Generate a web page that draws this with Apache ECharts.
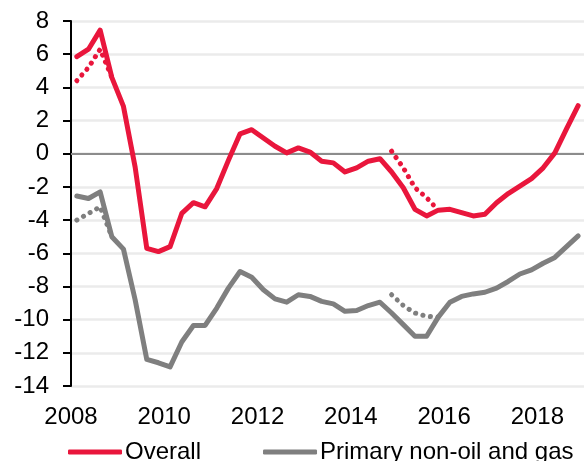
<!DOCTYPE html>
<html>
<head>
<meta charset="utf-8">
<script src="https://cdn.jsdelivr.net/npm/echarts@6/dist/echarts.min.js"></script>
<style>
    html, body { margin: 0; padding: 0; background: #fff; }
    #chart { width: 584px; height: 461px; }
</style>
</head>
<body>
<div id="chart"></div>
<script>
// quarters 2008Q1 .. 2018Q4
var quarters = [
    "2008Q1","2008Q2","2008Q3","2008Q4","2009Q1","2009Q2","2009Q3","2009Q4",
    "2010Q1","2010Q2","2010Q3","2010Q4","2011Q1","2011Q2","2011Q3","2011Q4",
    "2012Q1","2012Q2","2012Q3","2012Q4","2013Q1","2013Q2","2013Q3","2013Q4",
    "2014Q1","2014Q2","2014Q3","2014Q4","2015Q1","2015Q2","2015Q3","2015Q4",
    "2016Q1","2016Q2","2016Q3","2016Q4","2017Q1","2017Q2","2017Q3","2017Q4",
    "2018Q1","2018Q2","2018Q3","2018Q4"
];
// boundaries between quarters, used only for the year labels
var yearTicks = quarters.concat(["2019Q1"]);

var overall = [
    5.85, 6.3, 7.45, 4.6, 2.85, -0.8, -5.7, -5.9,
    -5.6, -3.6, -2.95, -3.2, -2.1, -0.4, 1.2, 1.45,
    0.95, 0.45, 0.05, 0.35, 0.1, -0.45, -0.55, -1.1,
    -0.85, -0.45, -0.3, -1.1, -2.05, -3.35, -3.75, -3.4,
    -3.35, -3.55, -3.75, -3.65, -2.95, -2.4, -1.95, -1.5,
    -0.85, 0.05, 1.5, 2.9
];
var overallAlt = [
    4.4, 5.2, 6.3, 4.6, "-", "-", "-", "-",
    "-", "-", "-", "-", "-", "-", "-", "-",
    "-", "-", "-", "-", "-", "-", "-", "-",
    "-", "-", "-", 0.15, -0.85, -2.05, -2.65, -3.4,
    "-", "-", "-", "-", "-", "-", "-", "-",
    "-", "-", "-", "-"
];
var primary = [
    -2.55, -2.7, -2.3, -5.0, -5.75, -8.8, -12.4, -12.6,
    -12.85, -11.35, -10.35, -10.35, -9.3, -8.1, -7.1, -7.45,
    -8.2, -8.75, -8.95, -8.5, -8.6, -8.9, -9.05, -9.5,
    -9.45, -9.15, -8.95, -9.6, -10.3, -11.0, -11.0, -9.85,
    -8.95, -8.6, -8.45, -8.35, -8.1, -7.7, -7.25, -7.0,
    -6.6, -6.25, -5.6, -4.95
];
var primaryAlt = [
    -4.0, -3.6, -3.2, -5.0, "-", "-", "-", "-",
    "-", "-", "-", "-", "-", "-", "-", "-",
    "-", "-", "-", "-", "-", "-", "-", "-",
    "-", "-", "-", -8.5, -9.15, -9.6, -9.8, -9.85,
    "-", "-", "-", "-", "-", "-", "-", "-",
    "-", "-", "-", "-"
];

var red = "#E9163C";
var grey = "#7F7F7F";
var font = "Liberation Sans, Arial, sans-serif";

function solid(name, data, color) {
    return {
        name: name,
        type: "line",
        data: data,
        symbol: "none",
        z: 3,
        lineStyle: { color: color, width: 5, cap: "round", join: "round" },
        itemStyle: { color: color }
    };
}
function dotted(name, data, color) {
    return {
        name: name,
        type: "line",
        data: data,
        symbol: "none",
        z: 2,
        lineStyle: { color: color, width: 5, type: [0.1, 7.5], cap: "round" },
        itemStyle: { color: color }
    };
}

var myChart = echarts.init(document.getElementById("chart"));
var option = {
    animation: false,
    textStyle: { fontFamily: font },
    grid: { left: 71, top: 21, width: 516, height: 365 },
    legend: {
        data: ["Overall", "Primary non-oil and gas"],
        left: 63,
        top: 435,
        icon: "roundRect",
        itemWidth: 54,
        itemHeight: 5,
        itemGap: 62,
        textStyle: { fontSize: 24, color: "#000", fontFamily: font, padding: [0, 0, 0, -2] }
    },
    xAxis: [
        {
            type: "category",
            data: quarters,
            boundaryGap: true,
            position: "bottom",
            axisLine: { onZero: true, lineStyle: { color: "#8C8C8C", width: 2 } },
            axisTick: { interval: 7, length: 7, lineStyle: { color: "#8C8C8C", width: 2 } },
            axisLabel: { show: false },
            splitLine: { show: false }
        },
        {
            type: "category",
            data: yearTicks,
            boundaryGap: false,
            position: "bottom",
            axisLine: { show: false, onZero: false },
            axisTick: { show: false },
            axisLabel: {
                interval: 7,
                margin: 19,
                fontSize: 24,
                color: "#000",
                formatter: function (v) { return v.substr(0, 4); }
            },
            splitLine: { show: false }
        }
    ],
    yAxis: {
        type: "value",
        min: -14,
        max: 8,
        interval: 2,
        axisLine: { show: true, onZero: false, lineStyle: { color: "#000", width: 2 } },
        axisTick: { show: true, length: 8, lineStyle: { color: "#000", width: 2 } },
        axisLabel: { fontSize: 24, color: "#000", margin: 22 },
        splitLine: { lineStyle: { color: "#EBEBEB", width: 2.5 } }
    },
    series: [
        dotted("Overall (alt)", overallAlt, red),
        dotted("Primary (alt)", primaryAlt, grey),
        solid("Primary non-oil and gas", primary, grey),
        solid("Overall", overall, red)
    ]
};
myChart.setOption(option);
</script>
</body>
</html>
